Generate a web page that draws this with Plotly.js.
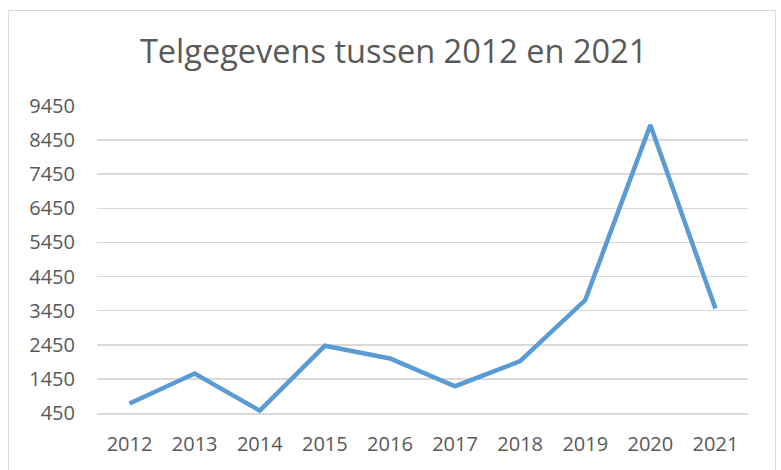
<!DOCTYPE html>
<html>
<head>
<meta charset="utf-8">
<script src="https://cdn.plot.ly/plotly-3.0.1.min.js"></script>
<style>
  html, body { margin: 0; padding: 0; background: #ffffff; }
  #wrap { position: relative; width: 781px; height: 470px; overflow: hidden; }
  #chart { position: absolute; left: 0; top: 0; width: 781px; height: 470px; }
  #frame { position: absolute; left: 8px; top: 10px; width: 768px; height: 470px;
           border: 1.5px solid #d9d9d9; box-sizing: border-box; pointer-events: none; }
</style>
</head>
<body>
<div id="wrap">
  <div id="chart"></div>
  <div id="frame"></div>
</div>
<script>
const titleText = "Telgegevens tussen 2012 en 2021";
const years = ["2012", "2013", "2014", "2015", "2016", "2017", "2018", "2019", "2020", "2021"];
const counts = [730, 1610, 520, 2420, 2050, 1235, 1970, 3760, 8890, 3510];
const yTicks = [450, 1450, 2450, 3450, 4450, 5450, 6450, 7450, 8450, 9450];

const trace = {
  x: years,
  y: counts,
  type: "scatter",
  mode: "lines",
  line: { color: "#5B9BD5", width: 4.5 },
  hoverinfo: "skip"
};

const layout = {
  width: 781,
  height: 470,
  margin: { l: 97, r: 33, t: 106, b: 57 },
  paper_bgcolor: "#ffffff",
  plot_bgcolor: "#ffffff",
  showlegend: false,
  font: { family: "Open Sans, sans-serif", color: "#595959" },
  title: {
    text: titleText,
    font: { family: "Open Sans, sans-serif", size: 32.5, color: "#595959" },
    x: 0.504, xref: "container", xanchor: "center",
    y: 0.89, yref: "container", yanchor: "middle"
  },
  xaxis: {
    type: "category",
    range: [-0.5, years.length - 0.5],
    showgrid: false,
    zeroline: false,
    showline: true,
    linecolor: "#d9d9d9",
    linewidth: 1.5,
    ticks: "",
    ticklabelstandoff: 12,
    tickfont: { family: "Open Sans, sans-serif", size: 20, color: "#595959" },
    fixedrange: true
  },
  yaxis: {
    range: [450, 9450],
    tickmode: "array",
    tickvals: yTicks,
    ticktext: yTicks.map(String),
    showgrid: true,
    gridcolor: "#d9d9d9",
    gridwidth: 1.5,
    zeroline: false,
    showline: false,
    ticks: "",
    ticklabelstandoff: 21,
    tickfont: { family: "Open Sans, sans-serif", size: 20, color: "#595959" },
    fixedrange: true
  }
};

Plotly.newPlot("chart", [trace], layout, { displayModeBar: false, staticPlot: true });
</script>
</body>
</html>
